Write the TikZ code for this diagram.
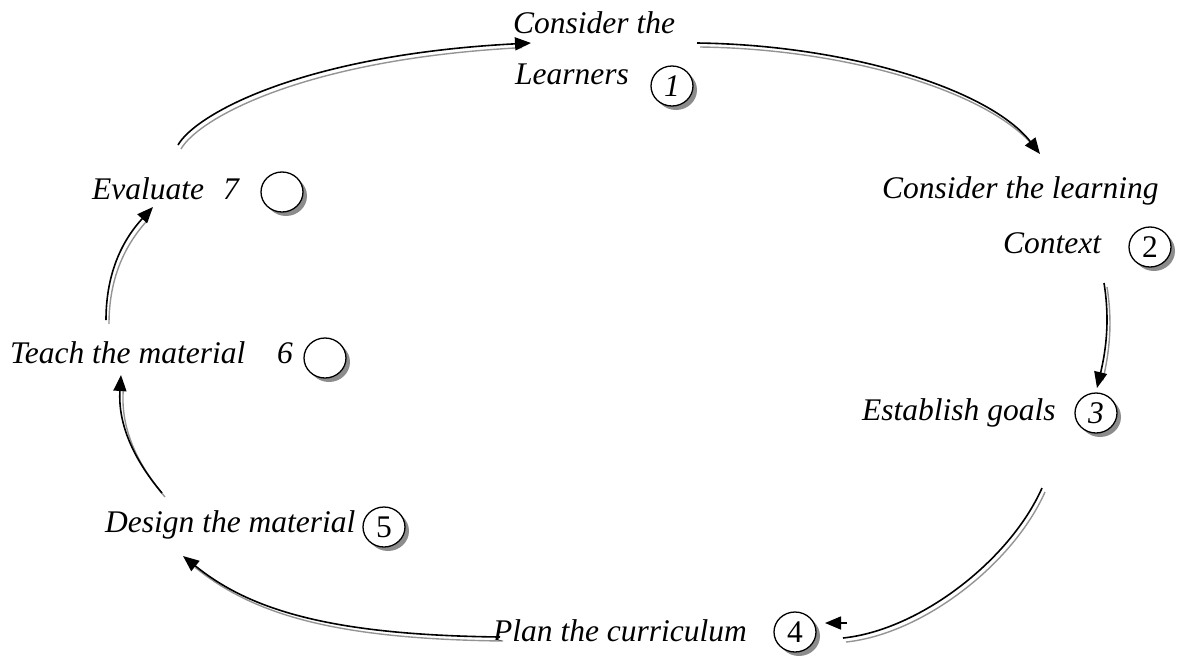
\documentclass[tikz,border=0pt]{standalone}
\usepackage{fontspec}
\setmainfont{Liberation Serif}
\usetikzlibrary{arrows.meta,shapes.geometric,shadows}
\begin{document}
\begin{tikzpicture}[x=1pt,y=-1pt,
  lbl/.style={anchor=base west, inner sep=0pt, font=\fontsize{31.5}{38}\selectfont\itshape},
  circ/.style={ellipse, draw=black, line width=1.3pt, fill=white, minimum width=42pt, minimum height=40pt, inner sep=0pt,
    font=\fontsize{31.5}{38}\selectfont,
    drop shadow={shadow xshift=4pt, shadow yshift=-4pt, fill=black!45, opacity=1}},
  conn/.style={line width=1.6pt, -{Triangle[length=16pt,width=13pt]}},
  shad/.style={line width=1.4pt, draw=black!42, shorten >=12pt, transform canvas={shift={(3pt,-4pt)}}},
  plain/.style={line width=1.6pt},
  plainshad/.style={line width=1.4pt, draw=black!42, transform canvas={shift={(3pt,-4pt)}}}
]
\path[use as bounding box] (0,0) rectangle (1189,657);

% labels
\node[lbl] (l1a) at (513,33) {Consider the};
\node[lbl] (l1b) at (515,84) {Learners};
\node[circ] (c1) at (672,86) {\itshape 1};

\node[lbl] (l2a) at (882,198) {Consider the learning};
\node[lbl] (l2b) at (1003,253) {Context};
\node[circ] (c2) at (1150,247) {2};

\node[lbl] (l3) at (862,420) {Establish goals};
\node[circ] (c3) at (1096,413) {\itshape 3};

\node[lbl] (l4) at (493,641) {Plan the curriculum};
\node[circ] (c4) at (795,632) {4};

\node[lbl] (l5) at (105,532) {Design the material};
\node[circ] (c5) at (384,527) {5};

\node[lbl] (l6) at (10,363) {Teach the material};
\node[lbl] (n6) at (277,363) {6};
\node[circ] (c6) at (325,358) {};

\node[lbl] (l7) at (92,199) {Evaluate};
\node[lbl] (n7) at (223,199) {7};
\node[circ] (c7) at (282,192) {};

% connector end points
\coordinate (as) at (178,145); \coordinate (ae) at (531,43);
\coordinate (bs) at (697,43);  \coordinate (be) at (1040,154);
\coordinate (cs) at (1104,283); \coordinate (ce) at (1097,388);
\coordinate (ds) at (1042,488); \coordinate (de) at (843,638);
\coordinate (dhs) at (847,623); \coordinate (dhe) at (825,623);
\coordinate (es) at (500,637); \coordinate (ee) at (183,556);
\coordinate (fs) at (162,493); \coordinate (fe) at (121,375);
\coordinate (gs) at (106,320); \coordinate (ge) at (153,207);

% shadows
\draw[shad] (as) .. controls (195,115) and (300,55) .. (ae);
\draw[shad] (bs) .. controls (850,45) and (990,90) .. (be);
\draw[shad] (cs) .. controls (1110,320) and (1106,350) .. (ce);
\draw[plainshad] (ds) .. controls (1010,560) and (920,630) .. (de);
\draw[shad] (es) .. controls (330,635) and (250,610) .. (ee);
\draw[shad] (fs) .. controls (130,455) and (118,420) .. (fe);
\draw[shad] (gs) .. controls (106,280) and (118,245) .. (ge);

% connectors
\draw[conn] (as) .. controls (195,115) and (300,55) .. (ae);
\draw[conn] (bs) .. controls (850,45) and (990,90) .. (be);
\draw[conn] (cs) .. controls (1110,320) and (1106,350) .. (ce);
\draw[plain] (ds) .. controls (1010,560) and (920,630) .. (de);
\draw[conn] (dhs) -- (dhe);
\draw[conn] (es) .. controls (330,635) and (250,610) .. (ee);
\draw[conn] (fs) .. controls (130,455) and (118,420) .. (fe);
\draw[conn] (gs) .. controls (106,280) and (118,245) .. (ge);
\end{tikzpicture}
\end{document}
